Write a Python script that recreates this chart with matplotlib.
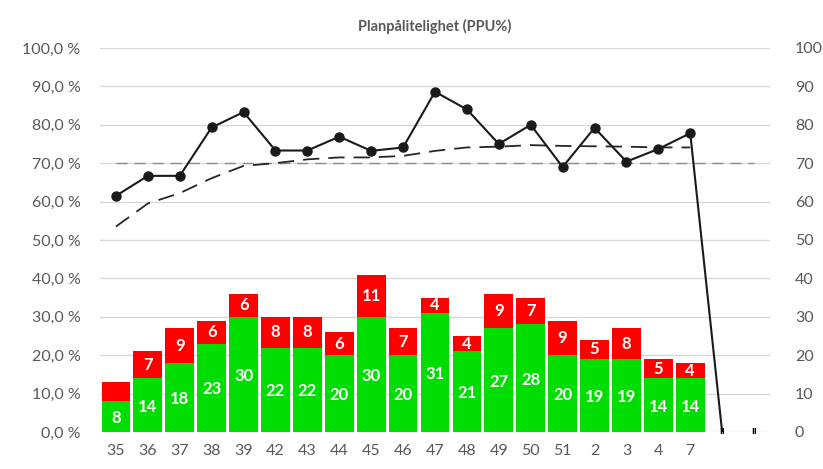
import numpy as np
import matplotlib.pyplot as plt

plt.rcParams['font.family'] = ['Lato', 'DejaVu Sans']

weeks = ["35", "36", "37", "38", "39", "42", "43", "44", "45", "46", "47", "48",
         "49", "50", "51", "2", "3", "4", "7", "", ""]
done = [8, 14, 18, 23, 30, 22, 22, 20, 30, 20, 31, 21, 27, 28, 20, 19, 19, 14, 14, 0, 0]
not_done = [5, 7, 9, 6, 6, 8, 8, 6, 11, 7, 4, 4, 9, 7, 9, 5, 8, 5, 4, 0, 0]
show_red_label = [False] + [True] * 18 + [False, False]
ppu = [61.5, 66.7, 66.7, 79.3, 83.3, 73.3, 73.3, 76.9, 73.2, 74.1, 88.6, 84.0,
       75.0, 80.0, 69.0, 79.2, 70.4, 73.7, 77.8, 0]
trend = [53.5, 59.5, 62.2, 66.1, 69.3, 70.0, 71.0, 71.5, 71.5, 71.9, 73.2, 74.1,
         74.3, 74.7, 74.5, 74.4, 74.3, 74.1, 74.1]
target = [70] * 21

green = '#00dd00'
red = '#ff0000'
grey = '#595959'

fig = plt.figure(figsize=(8.23, 4.69), dpi=100)
ax = fig.add_axes([0.1215, 0.0789, 0.8141, 0.8188])
x = np.arange(len(weeks))

ax.yaxis.grid(True, color='#d9d9d9', linewidth=1)
ax.set_axisbelow(True)

ax.bar(x, done, width=0.9, color=green, zorder=2)
ax.bar(x, not_done, bottom=done, width=0.9, color=red, zorder=2)

for i in range(19):
    ax.text(x[i], done[i] / 2 - 0.4, str(done[i]), ha='center', va='center',
            color='white', fontsize=12, fontweight='bold', zorder=3)
    if show_red_label[i]:
        ax.text(x[i], done[i] + not_done[i] / 2, str(not_done[i]), ha='center',
                va='center', color='white', fontsize=12, fontweight='bold', zorder=3)

# zero labels on the two empty weeks
for i in (19, 20):
    ax.text(x[i], 0.3, 'ıı', ha='center', va='center', color='black',
            fontsize=8, fontweight='bold', zorder=6)

ax.plot(x, target, color='#8c8c8c', linewidth=1, dashes=(8, 5), zorder=3)
ax.plot(x[:len(trend)], trend, color='#262626', linewidth=1.3, dashes=(9, 5), zorder=4)
ax.plot(x[:len(ppu)], ppu, color='#1a1a1a', linewidth=1.5, zorder=5)
ax.plot(x[:19], ppu[:19], color='#1a1a1a', linestyle='none', marker='o',
        markersize=6.5, zorder=5)

ax.set_xlim(-0.5, len(weeks) - 0.5)
ax.set_ylim(0, 100)
ax.set_yticks(np.arange(0, 101, 10))
ax.set_yticklabels([f"{v},0 %" for v in range(0, 101, 10)])
ax.set_xticks(x)
ax.set_xticklabels(weeks)
ax.tick_params(axis='both', length=0, colors=grey, labelsize=11.5)
ax.tick_params(axis='y', pad=14)
ax.tick_params(axis='x', pad=9)
for s in ax.spines.values():
    s.set_visible(False)

ax2 = ax.twinx()
ax2.set_ylim(0, 100)
ax2.set_yticks(np.arange(0, 101, 10))
ax2.tick_params(axis='y', length=0, colors=grey, labelsize=11.5, pad=18)
for s in ax2.spines.values():
    s.set_visible(False)

ax.set_title('Planpålitelighet (PPU%)', fontsize=10.5, fontweight='bold',
             color=grey, pad=12)

fig.savefig('out.png', dpi=100)
